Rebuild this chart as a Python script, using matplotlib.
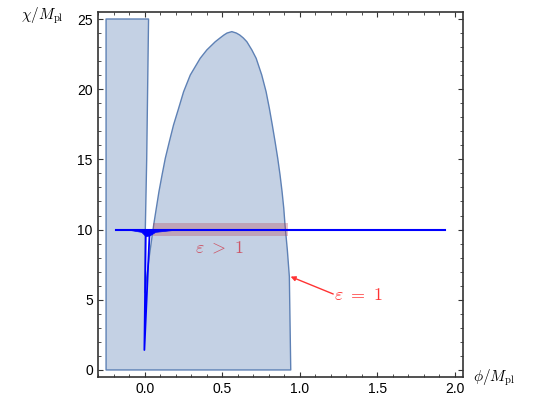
import matplotlib.pyplot as plt
from matplotlib.ticker import MultipleLocator

# boundary of the shaded (epsilon < 1) region, in data units
region_phi = [-0.25, -0.25, 0.024, 0.012, 0.003, 0.0,
              0.03, 0.057, 0.074, 0.091, 0.111, 0.132, 0.158, 0.185, 0.218,
              0.250, 0.293, 0.357, 0.40, 0.454, 0.485, 0.51, 0.53, 0.561,
              0.59, 0.612, 0.635, 0.658, 0.69, 0.718,
              0.754, 0.782, 0.803, 0.822, 0.840, 0.857, 0.872, 0.885, 0.896,
              0.904, 0.919, 0.932, 0.941]
region_chi = [0.0, 25.0, 25.0, 15.0, 10.0, 5.5,
              8.2, 10.33, 11.52, 12.70, 13.89, 15.08, 16.26, 17.45, 18.64,
              19.82, 21.01, 22.20, 22.80, 23.38, 23.65, 23.86, 24.0, 24.10,
              24.0, 23.86, 23.65, 23.38, 22.80, 22.20,
              21.01, 19.82, 18.64, 17.45, 16.26, 15.08, 13.89, 12.70, 11.52,
              10.33, 8.55, 6.65, 0.0]

# trajectory: flat line at chi = 10, the smear and the dip near phi = 0
traj_phi = [-0.187, 1.935]
traj_chi = [10.0, 10.0]
smear_phi = [-0.09, -0.02, 0.003, 0.012, 0.035, 0.07, 0.18]
smear_chi = [9.93, 9.8, 9.55, 9.5, 9.55, 9.8, 9.93]
dip_phi = [0.006, -0.003, 0.03]
dip_chi = [9.6, 1.42, 9.6]

# epsilon > 1 band
band_phi = (0.05, 0.925)
band_chi = (9.57, 10.5)

plt.rcParams['mathtext.fontset'] = 'cm'
plt.rcParams['font.family'] = ['Liberation Sans', 'DejaVu Sans']

fig = plt.figure(figsize=(5.45, 4.09), dpi=100)
ax = fig.add_axes([0.1804, 0.079, 0.849 - 0.1804, 0.9707 - 0.079])

ax.fill(region_phi, region_chi, facecolor='#5E81B5', alpha=0.36, edgecolor='none', zorder=1)
ax.fill(region_phi, region_chi, facecolor='none', edgecolor='#5E81B5', linewidth=1.0,
        joinstyle='round', zorder=2)

ax.fill_between(band_phi, band_chi[0], band_chi[1], color='#B43C50', alpha=0.3,
                linewidth=0, zorder=3)

ax.plot(traj_phi, traj_chi, color='#0000FF', linewidth=1.5, zorder=4)
ax.fill(smear_phi, smear_chi, color='#0000FF', linewidth=0.5, zorder=4)
ax.plot(dip_phi, dip_chi, color='#0000FF', linewidth=1.3, zorder=4)

ax.text(0.484, 8.69, r'$\varepsilon\ >\ 1$', color='#CC5566', fontsize=13,
        ha='center', va='center', zorder=5)
ax.text(1.38, 5.29, r'$\varepsilon\ =\ 1$', color='#FF3333', fontsize=13,
        ha='center', va='center', zorder=5)
ax.annotate('', xy=(0.94, 6.65), xytext=(1.215, 5.41),
            arrowprops=dict(arrowstyle='-|>', color='#FF3333', lw=1.0,
                            mutation_scale=7, shrinkA=0, shrinkB=0))

ax.set_xlim(-0.3, 2.05)
ax.set_ylim(-0.48, 25.5)
ax.set_xticks([0.0, 0.5, 1.0, 1.5, 2.0])
ax.set_yticks([0, 5, 10, 15, 20, 25])
ax.xaxis.set_minor_locator(MultipleLocator(0.1))
ax.yaxis.set_minor_locator(MultipleLocator(1))
ax.tick_params(which='both', direction='in', top=True, right=True,
               labelsize=10, color='#333333', pad=4)
ax.tick_params(which='major', length=3.5, width=0.8)
ax.tick_params(which='minor', length=2, width=0.6)
for s in ax.spines.values():
    s.set_color('#333333')
    s.set_linewidth(1.2)

fig.text(0.0385, 0.9535, r'$\chi/M_{\rm pl}$', fontsize=11, va='baseline')
fig.text(0.868, 0.0685, r'$\phi/M_{\rm pl}$', fontsize=11, va='baseline')

fig.savefig('out.png', dpi=100)
